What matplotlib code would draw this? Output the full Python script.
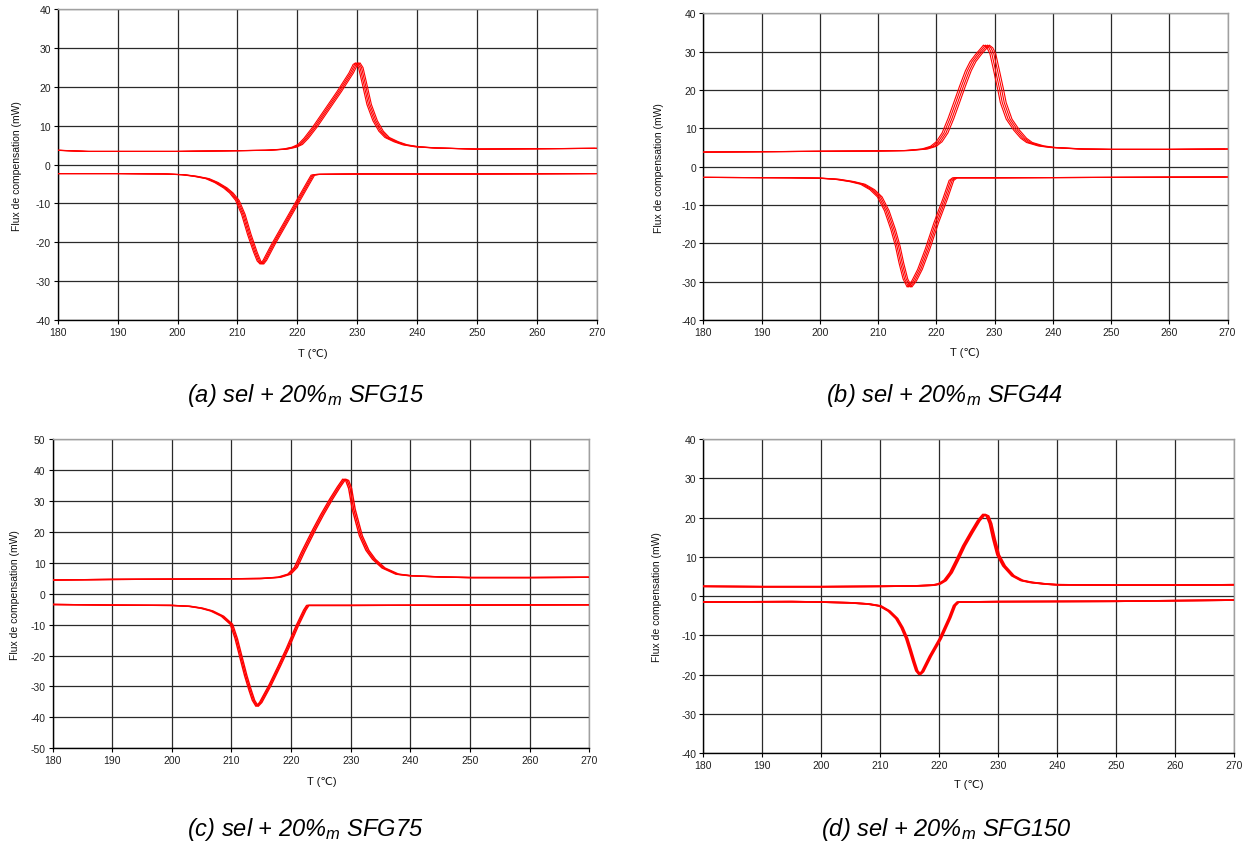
import matplotlib
matplotlib.use("Agg")
import matplotlib.pyplot as plt
import numpy as np

plt.rcParams['font.family'] = ['Liberation Sans', 'DejaVu Sans']
plt.rcParams['mathtext.fontset'] = 'custom'
plt.rcParams['mathtext.rm'] = 'Liberation Sans'
plt.rcParams['mathtext.it'] = 'Liberation Sans:italic'
plt.rcParams['axes.unicode_minus'] = False

# ---------------- data ----------------
# (a) sel + 20%m SFG15
a_heat_T = [180, 185, 190, 200, 210, 215, 218, 219.5, 220.5, 221.5, 223, 225, 227, 229, 229.7, 230.1,
            230.6, 231.2, 232, 233, 234, 235, 236.5, 238, 240, 243, 250, 260, 270]
a_heat_F = [3.7, 3.4, 3.4, 3.4, 3.6, 3.7, 4.0, 4.5, 5.2, 6.8, 9.8, 14.3, 18.8, 23.6, 25.8, 26.2,
            25.0, 21.0, 15.5, 11.3, 8.6, 7.0, 5.9, 5.1, 4.6, 4.3, 4.0, 4.1, 4.2]
a_cool_T = [180, 190, 198, 201, 203, 205, 206.5, 208, 209, 210, 211, 212, 213, 213.6, 214.1, 214.6,
            216, 218, 220, 222, 222.6, 223.5, 230, 250, 270]
a_cool_F = [-2.3, -2.3, -2.4, -2.6, -3.0, -3.6, -4.6, -6.0, -7.3, -9.2, -12.8, -18.0, -22.5, -24.8, -25.6, -24.6,
            -20.5, -15.1, -9.7, -4.3, -2.7, -2.5, -2.4, -2.4, -2.3]
a_shifts = [-0.4, -0.15, 0.1, 0.35]

# (b) sel + 20%m SFG44
b_heat_T = [180, 190, 200, 210, 215, 218, 219.5, 220.5, 221.5, 222.5, 223.5, 224.5, 225.5, 226.3, 227.2,
            228, 228.6, 229.2, 229.7, 230.3, 231, 231.5, 232.5, 233.8, 235, 236, 238, 240, 245, 250, 260, 270]
b_heat_F = [3.8, 3.9, 4.0, 4.1, 4.2, 4.6, 5.3, 6.5, 8.8, 12.5, 16.7, 21.0, 25.0, 27.4, 29.2,
            30.6, 31.7, 31.0, 29.5, 25.4, 20.5, 16.7, 12.4, 9.5, 7.4, 6.3, 5.4, 5.0, 4.6, 4.5, 4.5, 4.6]
b_cool_T = [180, 195, 200, 203, 205.5, 207.4, 209, 210.3, 211.5, 212.6, 213.4, 214.0, 214.7, 215.4, 216.2,
            217.2, 218.5, 220, 221.5, 222.6, 223.2, 230, 250, 270]
b_cool_F = [-2.8, -2.9, -3.0, -3.3, -3.9, -4.6, -6.0, -7.9, -11.5, -16.4, -20.8, -25.1, -29.3, -31.4, -29.8,
            -26.8, -21.5, -14.6, -8.5, -3.6, -2.9, -2.9, -2.8, -2.7]
b_shifts = [-0.5, -0.17, 0.17, 0.5]

# (c) sel + 20%m SFG75
c_heat_T = [180, 190, 200, 210, 215, 218, 219.7, 220.8, 222, 223.9, 225.2, 226.7, 228, 228.9, 229.4,
            229.9, 230.5, 231.7, 232.8, 233.9, 235.5, 237.8, 240, 245, 250, 260, 270]
c_heat_F = [4.4, 4.6, 4.7, 4.8, 4.9, 5.3, 6.3, 8.5, 13.5, 20.8, 25.5, 30.5, 34.5, 37.0, 36.6,
            34.0, 27.3, 18.7, 14.0, 11.1, 8.3, 6.3, 5.8, 5.4, 5.2, 5.2, 5.3]
c_cool_T = [180, 190, 200, 203, 205, 206.7, 208.5, 210, 210.8, 211.7, 212.4, 213.1, 213.7, 214.3, 214.9,
            216.5, 218, 219.4, 221, 222.3, 222.8, 230, 250, 270]
c_cool_F = [-3.5, -3.7, -3.8, -4.1, -4.7, -5.6, -7.3, -9.9, -14.5, -21.3, -26.5, -31.0, -34.5, -36.4, -35.2,
            -29.5, -23.5, -17.7, -10.5, -5.3, -3.8, -3.8, -3.7, -3.6]
c_shifts = [-0.25, 0.0, 0.25]

# (d) sel + 20%m SFG150
d_heat_T = [180, 190, 200, 210, 216, 219, 220, 221, 222, 223, 224.2, 225.5, 226.7, 227.6, 228.2,
            228.7, 229.3, 230, 231, 232.5, 234, 235.6, 238, 240, 250, 260, 270]
d_heat_F = [2.5, 2.4, 2.4, 2.5, 2.6, 2.8, 3.1, 4.0, 6.0, 9.0, 12.8, 16.2, 19.2, 20.8, 20.4,
            18.5, 14.5, 10.5, 7.7, 5.2, 4.0, 3.5, 3.1, 2.9, 2.8, 2.8, 2.9]
d_cool_T = [180, 195, 200, 205, 208, 210, 211.5, 212.8, 213.7, 214.5, 215.1, 215.7, 216.2, 216.7, 217.2,
            218.5, 220.2, 221.8, 222.6, 223.2, 230, 250, 270]
d_cool_F = [-1.5, -1.4, -1.5, -1.7, -2.0, -2.5, -3.8, -5.7, -8.0, -10.8, -13.7, -16.7, -19.0, -19.9, -19.2,
            -15.3, -10.8, -5.5, -2.4, -1.5, -1.4, -1.3, -1.0]
d_shifts = [-0.2, 0.0, 0.2]

captions = [r"(a) sel + 20%$_{m}$ SFG15", r"(b) sel + 20%$_{m}$ SFG44",
            r"(c) sel + 20%$_{m}$ SFG75", r"(d) sel + 20%$_{m}$ SFG150"]
ylims = [(-40, 40), (-40, 40), (-50, 50), (-40, 40)]
xticks = list(range(180, 271, 10))

panels = [
    (a_heat_T, a_heat_F, a_cool_T, a_cool_F, a_shifts),
    (b_heat_T, b_heat_F, b_cool_T, b_cool_F, b_shifts),
    (c_heat_T, c_heat_F, c_cool_T, c_cool_F, c_shifts),
    (d_heat_T, d_heat_F, d_cool_T, d_cool_F, d_shifts),
]
line_widths = [0.8, 0.8, 1.0, 1.2]

# ---------------- layout (pixels) ----------------
W, H = 1250, 845
boxes = [  # left, top, right, bottom in px
    (57.7, 10.3, 597.0, 321.0),
    (703.3, 14.3, 1227.5, 321.0),
    (52.5, 440.0, 589.3, 749.3),
    (703.3, 440.0, 1234.0, 754.3),
]
ylabel_x = [17, 659, 15, 657]
xlabel_pos = [(313, 354), (965, 353), (322, 782), (969, 785)]
caption_pos = [(306, 396), (945, 396), (305, 830), (946, 830)]

fig = plt.figure(figsize=(W / 100, H / 100), dpi=100)

for i, (hT, hF, cT, cF, shifts) in enumerate(panels):
    l, t, r, b = boxes[i]
    ax = fig.add_axes([l / W, 1 - b / H, (r - l) / W, (b - t) / H])
    for s in shifts:
        ax.plot(np.array(hT) + s, hF, color='#ff0000', lw=line_widths[i], zorder=3)
        ax.plot(np.array(cT) + s * 0.8, cF, color='#ff0000', lw=line_widths[i], zorder=3)
    ax.set_xlim(180, 270)
    ax.set_ylim(*ylims[i])
    ax.set_xticks(xticks)
    ax.set_yticks(list(range(ylims[i][0], ylims[i][1] + 1, 10)))
    ax.grid(True, color='#2a2a2a', lw=0.9, zorder=1)
    ax.set_axisbelow(True)
    ax.tick_params(direction='out', length=3, width=0.8, labelsize=7.5, pad=2,
                   colors='black', labelcolor='#222222')
    for side in ['left', 'bottom']:
        ax.spines[side].set_color('black')
        ax.spines[side].set_linewidth(1.0)
    for side in ['top', 'right']:
        ax.spines[side].set_color('#a0a0a0')
        ax.spines[side].set_linewidth(1.0)
    fig.text(ylabel_x[i] / W, 1 - ((t + b) / 2) / H, 'Flux de compensation (mW)',
             rotation=90, ha='center', va='center', fontsize=7.5, color='#111111')
    xl, yl = xlabel_pos[i]
    fig.text(xl / W, 1 - yl / H, 'T (℃)', ha='center', va='center', fontsize=8, color='#111111')
    cx, cy = caption_pos[i]
    fig.text(cx / W, 1 - cy / H, captions[i], ha='center', va='center', fontsize=17, style='italic')

fig.savefig('out.png', dpi=100)
